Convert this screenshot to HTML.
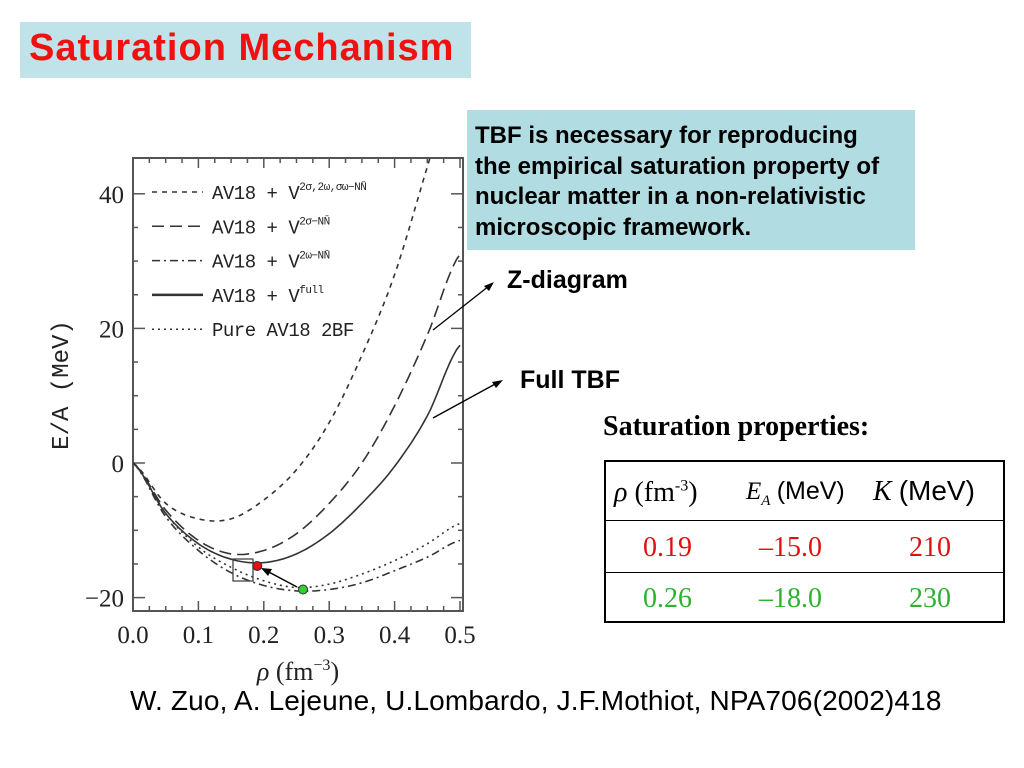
<!DOCTYPE html>
<html><head><meta charset="utf-8"><style>
body{margin:0;width:1024px;height:768px;background:#fff;position:relative;overflow:hidden;font-family:"Liberation Sans",sans-serif}
.abs{position:absolute}
</style></head><body>
<div class="abs" style="left:20px;top:22px;width:451px;height:56px;background:#bfe3e9"></div>
<div class="abs" style="left:29px;top:27px;font-size:38px;font-weight:bold;color:#f01010;letter-spacing:1px">Saturation Mechanism</div>
<div class="abs" style="left:467px;top:110px;width:448px;height:140px;background:#b0dce2"></div>
<div class="abs" style="left:475px;top:121px;font-size:24px;font-weight:bold;line-height:30.5px;color:#000;white-space:nowrap">TBF is necessary for reproducing<br>the empirical saturation property of<br>nuclear matter in a non-relativistic<br>microscopic framework.</div>
<div class="abs" style="left:507px;top:266px;font-size:25px;font-weight:bold">Z-diagram</div>
<div class="abs" style="left:520px;top:366px;font-size:25px;font-weight:bold">Full TBF</div>
<div class="abs" style="left:603px;top:411px;font-family:'Liberation Serif',serif;font-size:28px;font-weight:bold">Saturation properties:</div>
<div class="abs" style="left:604px;top:460px;width:397px;height:159px;border:2px solid #000;font-family:'Liberation Serif',serif;font-size:28px">
 <div style="position:absolute;left:0;top:58px;width:100%;border-top:1px solid #000"></div>
 <div style="position:absolute;left:0;top:110px;width:100%;border-top:1px solid #000"></div>
 <div class="abs" style="left:8px;top:15px;white-space:nowrap"><i>ρ</i> (fm<sup style="font-size:16px">-3</sup>)</div>
 <div class="abs" style="left:140px;top:15px;font-size:25px;white-space:nowrap"><i>E<sub style="font-size:15px">A</sub></i> <span style="font-family:'Liberation Sans'">(MeV)</span></div>
 <div class="abs" style="left:267px;top:13px;white-space:nowrap"><i>K</i> <span style="font-family:'Liberation Sans'">(MeV)</span></div>
 <div class="abs" style="left:0;top:70px;width:100%;color:#e01010"><span class="abs" style="left:37px">0.19</span><span class="abs" style="left:153px">–15.0</span><span class="abs" style="left:303px">210</span></div>
 <div class="abs" style="left:0;top:121px;width:100%;color:#30b030"><span class="abs" style="left:37px">0.26</span><span class="abs" style="left:153px">–18.0</span><span class="abs" style="left:303px">230</span></div>
</div>
<div class="abs" style="left:130px;top:685px;font-size:28px;white-space:nowrap;letter-spacing:0.15px">W. Zuo, A. Lejeune, U.Lombardo, J.F.Mothiot, NPA706(2002)418</div>
<svg id="chart" class="abs" style="left:0;top:0" width="1024" height="768"></svg>
<script>
const rho=[0,0.05,0.1,0.15,0.2,0.25,0.3,0.35,0.4,0.45,0.5];
const eZ=[0,-6,-8.3,-8.3,-5.5,-1,6,16,28,44,60];
const e2s=[0,-7,-11.5,-13.5,-13,-10.5,-6,0,8.5,19,31];
const eFull=[0,-7.5,-12,-14.3,-14.8,-13.5,-10.5,-6,-0.5,7,17.5];
const e2w=[0,-8,-13,-16.3,-18.2,-19,-18.8,-17.8,-16,-14,-11.5];
const ePure=[0,-7.5,-12.5,-15.5,-17.5,-18.5,-18,-16.5,-14.5,-12,-9];
const xTicks=[0,0.1,0.2,0.3,0.4,0.5];
const xLabels=["0.0","0.1","0.2","0.3","0.4","0.5"];
const yTicks=[-20,0,20,40];
const sat=[[0.19,-15.3],[0.26,-18.8]];
const X=r=>133+r*654, Y=e=>463-e*6.73;
const svg=document.getElementById('chart'),NS='http://www.w3.org/2000/svg';
function mk(t,a,p){const e=document.createElementNS(NS,t);for(const k in a)e.setAttribute(k,a[k]);(p||svg).appendChild(e);return e;}
const clip=mk('clipPath',{id:'c'});mk('rect',{x:133,y:158,width:330,height:453},clip);
const frame=mk('rect',{x:133,y:158,width:330,height:453,fill:'none',stroke:'#555','stroke-width':2});

for(let v=0;v<=0.5001;v+=0.025){const big=Math.abs(v*10-Math.round(v*10))<1e-6;const l=big?10:5;
mk('line',{x1:X(v),x2:X(v),y1:611,y2:611-l,stroke:'#555','stroke-width':1.5});mk('line',{x1:X(v),x2:X(v),y1:158,y2:158+l,stroke:'#555','stroke-width':1.5});}
for(let v=-20;v<=42;v+=5){const big=v%20==0;const l=big?12:5;
mk('line',{x1:133,x2:133+l,y1:Y(v),y2:Y(v),stroke:'#555','stroke-width':1.5});mk('line',{x1:463,x2:463-l,y1:Y(v),y2:Y(v),stroke:'#555','stroke-width':1.5});}
xTicks.forEach((v,i)=>{const t=mk('text',{x:X(v),y:643,'text-anchor':'middle','font-family':'Liberation Serif,serif','font-size':25,fill:'#222'});t.textContent=xLabels[i];
});
yTicks.forEach(v=>{const t=mk('text',{x:124,y:Y(v)+9,'text-anchor':'end','font-family':'Liberation Serif,serif','font-size':25,fill:'#222'});t.textContent=v===-20?'−20':v;
});
const xt=mk('text',{x:298,y:680,'text-anchor':'middle','font-family':'Liberation Serif,serif','font-size':26,fill:'#222'});xt.innerHTML='<tspan font-style="italic">ρ</tspan>  (fm<tspan dy="-10" font-size="16">−3</tspan><tspan dy="10">)</tspan>';

const yt=mk('text',{x:0,y:0,transform:'translate(68,385) rotate(-90)','text-anchor':'middle','font-family':'Liberation Mono,monospace','font-size':24,fill:'#222'});yt.textContent='E/A (MeV)';

function path(arr){let p=[];for(let i=0;i<arr.length-1;i++){for(let k=0;k<10;k++){const t=k/10;const i0=Math.max(i-1,0),i3=Math.min(i+2,arr.length-1);
const y=0.5*((2*arr[i])+(-arr[i0]+arr[i+1])*t+(2*arr[i0]-5*arr[i]+4*arr[i+1]-arr[i3])*t*t+(-arr[i0]+3*arr[i]-3*arr[i+1]+arr[i3])*t*t*t);
const r=rho[i]+t*(rho[i+1]-rho[i]);p.push((p.length?'L':'M')+X(r).toFixed(1)+','+Y(y).toFixed(1));}}
p.push('L'+X(rho[rho.length-1])+','+Y(arr[arr.length-1]));return p.join('');}
const series=[[eZ,'5,5','curve-z-diagram'],[e2s,'12,6','curve-2sigma'],[e2w,'8,4,2,4','curve-2omega'],[eFull,'','curve-full-tbf'],[ePure,'2,4','curve-pure-av18']];
series.forEach(s=>{const e=mk('path',{d:path(s[0]),fill:'none',stroke:'#333','stroke-width':1.6,'stroke-dasharray':s[1],'clip-path':'url(#c)'});
});
const legT=['AV18 + V<tspan dy="-9" font-size="11">2σ,2ω,σω−NN̄</tspan>','AV18 + V<tspan dy="-9" font-size="11">2σ−NN̄</tspan>','AV18 + V<tspan dy="-9" font-size="11">2ω−NN̄</tspan>','AV18 + V<tspan dy="-9" font-size="11">full</tspan>','Pure AV18 2BF'];
const legD=['5,5','12,6','8,4,2,4','','2,4'];
legT.forEach((s,i)=>{const y=192+i*34.3;mk('line',{x1:152,x2:203,y1:y,y2:y,stroke:'#333','stroke-width':i==3?2.5:1.5,'stroke-dasharray':legD[i]});
const t=mk('text',{x:212,y:y+7,'font-family':'Liberation Mono,monospace','font-size':19,fill:'#222','letter-spacing':'-0.5'});t.innerHTML=s;
});
mk('rect',{x:233,y:559,width:20,height:22,fill:'none',stroke:'#444','stroke-width':1.3});
mk('line',{x1:297,y1:587,x2:265,y2:570,stroke:'#000','stroke-width':1.5});
mk('polygon',{points:'261,568 272,569 268,576',fill:'#000'});
const cols=['#e01010','#30d030'];
sat.forEach((s,i)=>{const c=mk('circle',{cx:X(s[0]),cy:Y(s[1]),r:4.5,fill:cols[i],stroke:'#333','stroke-width':1});
});
mk('line',{x1:433,y1:330,x2:489,y2:286,stroke:'#000','stroke-width':1.3});mk('polygon',{points:'494,282 484,286 489,291',fill:'#000'});
mk('line',{x1:433,y1:418,x2:497,y2:383,stroke:'#000','stroke-width':1.3});mk('polygon',{points:'503,380 492,382 496,388',fill:'#000'});
</script>
</body></html>
